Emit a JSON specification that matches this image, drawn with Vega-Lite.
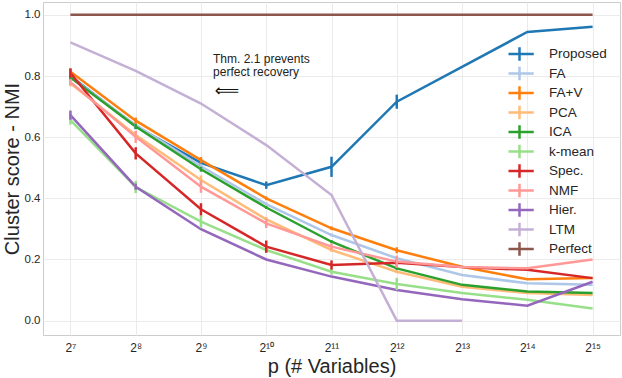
{
  "$schema": "https://vega.github.io/schema/vega-lite/v6.json",
  "autosize": "none",
  "padding": {"left": 43, "top": 2, "right": 2, "bottom": 43},
  "width": 577,
  "height": 333,
  "config": {
    "font": "Liberation Sans",
    "view": {"stroke": "#cccccc", "strokeWidth": 1},
    "axis": {"grid": true, "gridColor": "#ebebeb", "gridWidth": 1, "domain": false, "ticks": false, "labelColor": "#262626", "titleColor": "#262626", "titleFontWeight": "normal"}
  },
  "datasets": {
    "series": [
      {"m": "Proposed", "p": 128, "v": 0.80, "e": 0.008},
      {"m": "Proposed", "p": 256, "v": 0.636, "e": 0.01},
      {"m": "Proposed", "p": 512, "v": 0.516, "e": 0.01},
      {"m": "Proposed", "p": 1024, "v": 0.443, "e": 0.012},
      {"m": "Proposed", "p": 2048, "v": 0.503, "e": 0.033},
      {"m": "Proposed", "p": 4096, "v": 0.716, "e": 0.023},
      {"m": "Proposed", "p": 8192, "v": 0.83, "e": 0},
      {"m": "Proposed", "p": 16384, "v": 0.944, "e": 0},
      {"m": "Proposed", "p": 32768, "v": 0.961, "e": 0},
      {"m": "FA", "p": 128, "v": 0.797, "e": 0.008},
      {"m": "FA", "p": 256, "v": 0.64, "e": 0.01},
      {"m": "FA", "p": 512, "v": 0.505, "e": 0.008},
      {"m": "FA", "p": 1024, "v": 0.381, "e": 0.006},
      {"m": "FA", "p": 2048, "v": 0.28, "e": 0.005},
      {"m": "FA", "p": 4096, "v": 0.204, "e": 0.005},
      {"m": "FA", "p": 8192, "v": 0.149, "e": 0},
      {"m": "FA", "p": 16384, "v": 0.122, "e": 0},
      {"m": "FA", "p": 32768, "v": 0.117, "e": 0},
      {"m": "FA+V", "p": 128, "v": 0.814, "e": 0.01},
      {"m": "FA+V", "p": 256, "v": 0.654, "e": 0.01},
      {"m": "FA+V", "p": 512, "v": 0.525, "e": 0.01},
      {"m": "FA+V", "p": 1024, "v": 0.40, "e": 0.006},
      {"m": "FA+V", "p": 2048, "v": 0.302, "e": 0.006},
      {"m": "FA+V", "p": 4096, "v": 0.23, "e": 0.01},
      {"m": "FA+V", "p": 8192, "v": 0.176, "e": 0},
      {"m": "FA+V", "p": 16384, "v": 0.135, "e": 0},
      {"m": "FA+V", "p": 32768, "v": 0.139, "e": 0},
      {"m": "PCA", "p": 128, "v": 0.776, "e": 0.01},
      {"m": "PCA", "p": 256, "v": 0.607, "e": 0.01},
      {"m": "PCA", "p": 512, "v": 0.46, "e": 0.015},
      {"m": "PCA", "p": 1024, "v": 0.331, "e": 0.008},
      {"m": "PCA", "p": 2048, "v": 0.231, "e": 0.006},
      {"m": "PCA", "p": 4096, "v": 0.16, "e": 0.005},
      {"m": "PCA", "p": 8192, "v": 0.111, "e": 0},
      {"m": "PCA", "p": 16384, "v": 0.09, "e": 0},
      {"m": "PCA", "p": 32768, "v": 0.084, "e": 0},
      {"m": "ICA", "p": 128, "v": 0.795, "e": 0.008},
      {"m": "ICA", "p": 256, "v": 0.635, "e": 0.008},
      {"m": "ICA", "p": 512, "v": 0.495, "e": 0.008},
      {"m": "ICA", "p": 1024, "v": 0.37, "e": 0.005},
      {"m": "ICA", "p": 2048, "v": 0.258, "e": 0.005},
      {"m": "ICA", "p": 4096, "v": 0.171, "e": 0.005},
      {"m": "ICA", "p": 8192, "v": 0.117, "e": 0},
      {"m": "ICA", "p": 16384, "v": 0.095, "e": 0},
      {"m": "ICA", "p": 32768, "v": 0.09, "e": 0},
      {"m": "k-mean", "p": 128, "v": 0.656, "e": 0.015},
      {"m": "k-mean", "p": 256, "v": 0.437, "e": 0.02},
      {"m": "k-mean", "p": 512, "v": 0.324, "e": 0.02},
      {"m": "k-mean", "p": 1024, "v": 0.231, "e": 0.01},
      {"m": "k-mean", "p": 2048, "v": 0.16, "e": 0.01},
      {"m": "k-mean", "p": 4096, "v": 0.12, "e": 0.02},
      {"m": "k-mean", "p": 8192, "v": 0.09, "e": 0},
      {"m": "k-mean", "p": 16384, "v": 0.068, "e": 0},
      {"m": "k-mean", "p": 32768, "v": 0.04, "e": 0},
      {"m": "Spec.", "p": 128, "v": 0.81, "e": 0.015},
      {"m": "Spec.", "p": 256, "v": 0.547, "e": 0.02},
      {"m": "Spec.", "p": 512, "v": 0.364, "e": 0.02},
      {"m": "Spec.", "p": 1024, "v": 0.242, "e": 0.02},
      {"m": "Spec.", "p": 2048, "v": 0.182, "e": 0.015},
      {"m": "Spec.", "p": 4096, "v": 0.189, "e": 0.01},
      {"m": "Spec.", "p": 8192, "v": 0.175, "e": 0},
      {"m": "Spec.", "p": 16384, "v": 0.166, "e": 0},
      {"m": "Spec.", "p": 32768, "v": 0.139, "e": 0},
      {"m": "NMF", "p": 128, "v": 0.78, "e": 0.01},
      {"m": "NMF", "p": 256, "v": 0.601, "e": 0.02},
      {"m": "NMF", "p": 512, "v": 0.438, "e": 0.02},
      {"m": "NMF", "p": 1024, "v": 0.318, "e": 0.015},
      {"m": "NMF", "p": 2048, "v": 0.242, "e": 0.01},
      {"m": "NMF", "p": 4096, "v": 0.193, "e": 0.02},
      {"m": "NMF", "p": 8192, "v": 0.175, "e": 0},
      {"m": "NMF", "p": 16384, "v": 0.171, "e": 0},
      {"m": "NMF", "p": 32768, "v": 0.20, "e": 0},
      {"m": "Hier.", "p": 128, "v": 0.672, "e": 0.015},
      {"m": "Hier.", "p": 256, "v": 0.438, "e": 0.01},
      {"m": "Hier.", "p": 512, "v": 0.299, "e": 0},
      {"m": "Hier.", "p": 1024, "v": 0.2, "e": 0},
      {"m": "Hier.", "p": 2048, "v": 0.144, "e": 0},
      {"m": "Hier.", "p": 4096, "v": 0.1, "e": 0},
      {"m": "Hier.", "p": 8192, "v": 0.07, "e": 0},
      {"m": "Hier.", "p": 16384, "v": 0.049, "e": 0},
      {"m": "Hier.", "p": 32768, "v": 0.127, "e": 0},
      {"m": "LTM", "p": 128, "v": 0.91, "e": 0},
      {"m": "LTM", "p": 256, "v": 0.817, "e": 0},
      {"m": "LTM", "p": 512, "v": 0.71, "e": 0},
      {"m": "LTM", "p": 1024, "v": 0.574, "e": 0},
      {"m": "LTM", "p": 2048, "v": 0.411, "e": 0},
      {"m": "LTM", "p": 4096, "v": 0.0, "e": 0},
      {"m": "LTM", "p": 8192, "v": 0.0, "e": 0},
      {"m": "Perfect", "p": 128, "v": 1.0, "e": 0},
      {"m": "Perfect", "p": 256, "v": 1.0, "e": 0},
      {"m": "Perfect", "p": 512, "v": 1.0, "e": 0},
      {"m": "Perfect", "p": 1024, "v": 1.0, "e": 0},
      {"m": "Perfect", "p": 2048, "v": 1.0, "e": 0},
      {"m": "Perfect", "p": 4096, "v": 1.0, "e": 0},
      {"m": "Perfect", "p": 8192, "v": 1.0, "e": 0},
      {"m": "Perfect", "p": 16384, "v": 1.0, "e": 0},
      {"m": "Perfect", "p": 32768, "v": 1.0, "e": 0}
    ],
    "notes": [
      {"p": 582, "v": 0.855, "t": "Thm. 2.1 prevents"},
      {"p": 582, "v": 0.813, "t": "perfect recovery"}
    ],
    "arrow": [
      {"p": 675, "v": 0.752, "t": "⟸"}
    ]
  },
  "layer": [
    {
      "data": {"name": "series"},
      "mark": {"type": "line", "strokeWidth": 2.5, "clip": true},
      "encoding": {
        "x": {"field": "p", "type": "quantitative", "title": "p (# Variables)",
          "scale": {"type": "log", "base": 2, "domain": [95.66, 43840], "nice": false},
          "axis": {"values": [128, 256, 512, 1024, 2048, 4096, 8192, 16384, 32768],
            "labelExpr": "['2⁷','2⁸','2⁹','2¹⁰','2¹¹','2¹²','2¹³','2¹⁴','2¹⁵'][round(log(datum.value)/LN2)-7]",
            "labelFontSize": 12, "labelPadding": 7,
            "titleFontSize": 20, "titlePadding": 3}},
        "y": {"field": "v", "type": "quantitative", "title": "Cluster score - NMI",
          "scale": {"domain": [-0.047, 1.042], "nice": false, "zero": false},
          "axis": {"values": [0, 0.2, 0.4, 0.6, 0.8, 1.0], "format": ".1f",
            "labelFontSize": 11.5, "labelPadding": 3,
            "titleFontSize": 20, "titlePadding": 2}},
        "color": {"field": "m", "type": "nominal",
          "scale": {"domain": ["Proposed", "FA", "FA+V", "PCA", "ICA", "k-mean", "Spec.", "NMF", "Hier.", "LTM", "Perfect"],
            "range": ["#1f77b4", "#aec7e8", "#ff7f0e", "#ffbb78", "#2ca02c", "#98df8a", "#d62728", "#ff9896", "#9467bd", "#c5b0d5", "#8c564b"]},
          "legend": {"orient": "none", "legendX": 465.5, "legendY": 42.5, "title": null,
            "symbolType": "M-1.5,0H1.5M0,-0.7V0.7", "symbolSize": 361, "symbolStrokeWidth": 2.5,
            "symbolFillColor": "transparent", "clipHeight": 19,
            "labelFontSize": 13.5, "labelOffset": 18.5, "labelColor": "#262626",
            "rowPadding": 0.5, "padding": 0}},
        "order": {"field": "p", "type": "quantitative"}
      }
    },
    {
      "data": {"name": "series"},
      "transform": [{"filter": "datum.e > 0"}],
      "mark": {"type": "errorbar", "ticks": false, "thickness": 2.5},
      "encoding": {
        "x": {"field": "p", "type": "quantitative", "title": "p (# Variables)"},
        "y": {"field": "v", "type": "quantitative", "title": "Cluster score - NMI"},
        "yError": {"field": "e"},
        "color": {"field": "m", "type": "nominal", "legend": null}
      }
    },
    {
      "data": {"name": "notes"},
      "mark": {"type": "text", "align": "left", "baseline": "middle", "fontSize": 12, "color": "#222222"},
      "encoding": {
        "x": {"field": "p", "type": "quantitative", "title": "p (# Variables)"},
        "y": {"field": "v", "type": "quantitative", "title": "Cluster score - NMI"},
        "text": {"field": "t"}
      }
    },
    {
      "data": {"name": "arrow"},
      "mark": {"type": "text", "align": "center", "baseline": "middle", "fontSize": 17, "font": "DejaVu Sans", "color": "#111111"},
      "encoding": {
        "x": {"field": "p", "type": "quantitative", "title": "p (# Variables)"},
        "y": {"field": "v", "type": "quantitative", "title": "Cluster score - NMI"},
        "text": {"field": "t"}
      }
    }
  ]
}
